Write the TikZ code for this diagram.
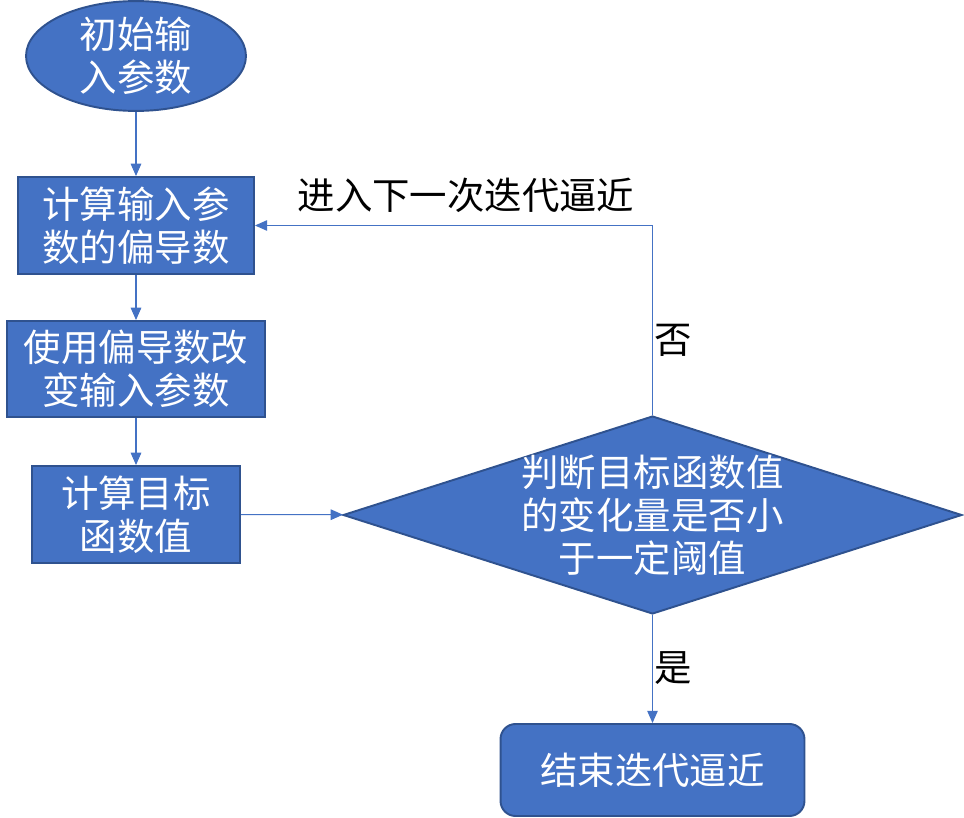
\documentclass[tikz,border=0pt]{standalone}
\usepackage{fontspec}
\setmainfont{Noto Sans CJK SC}
\usepackage{tikz}
\usetikzlibrary{positioning}
\usetikzlibrary{shapes.geometric}
\usetikzlibrary{arrows.meta}
\definecolor{boxblue}{RGB}{68,114,196}
\definecolor{boxedge}{RGB}{47,82,143}
\newcommand{\boxfont}{\fontsize{21.3}{24.5}\selectfont}
\tikzset{
	box/.style={draw=boxedge, line width=1.1pt, fill=boxblue, text=white, align=center, inner sep=0pt, font=\boxfont},
	flow/.style={draw=boxblue, line width=0.6pt, -{Triangle[length=7pt,width=6pt]}},
	lab/.style={font=\boxfont}
}

\begin{document}
\begin{tikzpicture}[x=0.02cm, y=-0.02cm]
					\useasboundingbox (0,0) rectangle (964,818);

					\node[box, ellipse, minimum width=4.4cm, minimum height=1.92cm] (start) at (136,56) {初始输\\入参数};
					\node[box, minimum width=4.72cm, minimum height=1.94cm] (grad) at (136,225.5) {计算输入参\\数的偏导数};
					\node[box, minimum width=5.16cm, minimum height=1.92cm] (upd) at (136,369) {使用偏导数改\\变输入参数};
					\node[box, minimum width=4.16cm, minimum height=1.94cm] (obj) at (136,514.5) {计算目标\\函数值};
					\node[box, diamond, minimum width=12.38cm, minimum height=3.96cm] (judge) at (652.5,515) {};
					\node[lab, text=white, align=center] (judgetext) at (judge.center) {\fontsize{21.3}{25.5}\selectfont 判断目标函数值\\的变化量是否小\\于一定阈值};
					\node[box, rounded corners=0.3cm, minimum width=6.08cm, minimum height=1.84cm] (stop) at (652.5,770) {结束迭代逼近};

					\draw[flow] (start) -- (grad);
					\draw[flow] (grad) -- (upd);
					\draw[flow] (upd) -- (obj);
					\draw[flow] (obj) -- (judge);
					\draw[flow] (judge.north) |- (grad.east);
					\draw[flow] (judge) -- (stop);

					\node[lab] (again) at (466,195) {进入下一次迭代逼近};
					\node[lab] (no) at (673,340) {否};
					\node[lab] (yes) at (673,668) {是};
\end{tikzpicture}
\end{document}
